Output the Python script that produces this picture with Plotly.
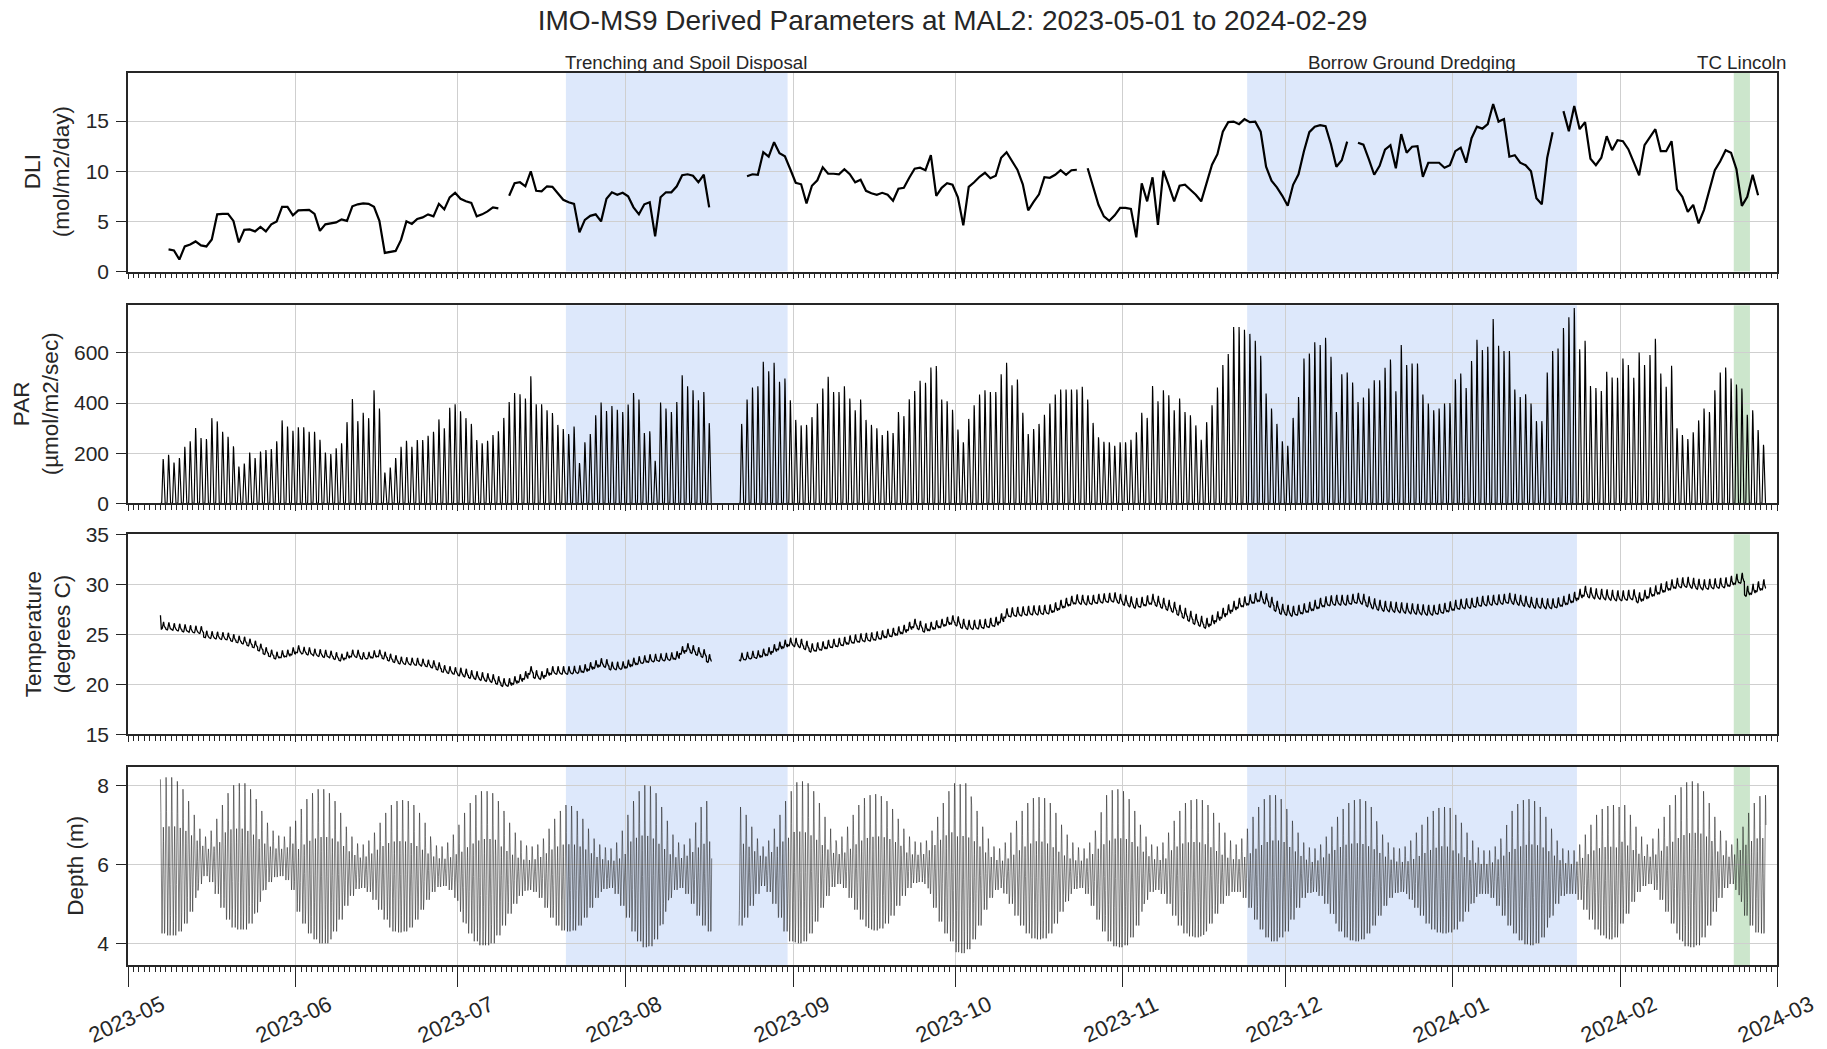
import pandas as pd
import plotly.graph_objects as go

# ---------------------------------------------------------------- time axis
AXIS_START = "2023-05-01"
AXIS_END = "2024-03-01"
MONTH_TICKS = [d.strftime("%Y-%m-%d") for d in pd.date_range(AXIS_START, AXIS_END, freq="MS")]
MONTH_LABELS = [d[:7] for d in MONTH_TICKS]

TITLE = "IMO-MS9 Derived Parameters at MAL2: 2023-05-01 to 2024-02-29"

# ---------------------------------------------------------------- activity periods
EVENT_NAMES = ["Trenching and Spoil Disposal", "Borrow Ground Dredging", "TC Lincoln"]
EVENT_STARTS = ["2023-07-21", "2023-11-24", "2024-02-22"]
EVENT_ENDS = ["2023-08-31", "2024-01-24", "2024-02-25"]

# ---------------------------------------------------------------- DLI, one value per day (None = no data)
DLI_START = "2023-05-08"
DLI = [
    2.2, 2.1, 1.2, 2.5, 2.7, 3.0, 2.6, 2.5, 3.2, 5.7,
    5.75, 5.75, 5.05, 2.9, 4.15, 4.2, 4.0, 4.45, 4.0, 4.7,
    5.0, 6.45, 6.45, 5.6, 6.1, 6.15, 6.15, 5.75, 4.05, 4.7,
    4.8, 4.9, 5.2, 5.05, 6.5, 6.7, 6.8, 6.75, 6.45, 5.05,
    1.85, 1.95, 2.05, 3.15, 5.0, 4.75, 5.25, 5.4, 5.7, 5.5,
    6.75, 6.2, 7.4, 7.85, 7.25, 7.0, 6.85, 5.5, 5.7, 6.0,
    6.4, 6.3, None, 7.55, 8.8, 8.9, 8.5, 10.0, 8.05, 8.0,
    8.5, 8.45, 7.8, 7.15, 6.9, 6.75, 3.9, 5.15, 5.55, 5.7,
    5.0, 7.25, 7.9, 7.65, 7.85, 7.5, 6.4, 5.7, 6.7, 6.9,
    3.5, 7.4, 7.9, 7.9, 8.5, 9.6, 9.7, 9.55, 8.9, 9.65,
    6.4, None, None, None, None, None, None, 9.5, 9.7, 9.65,
    11.9, 11.45, 12.9, 11.8, 11.5, 10.2, 8.85, 8.7, 6.8, 8.55,
    9.1, 10.4, 9.75, 9.75, 9.7, 10.2, 9.7, 8.9, 9.15, 8.05,
    7.8, 7.65, 7.85, 7.65, 7.05, 8.25, 8.35, 9.35, 10.25, 10.35,
    10.1, 11.6, 7.55, 8.35, 8.8, 8.65, 7.4, 4.6, 8.45, 8.9,
    9.45, 9.85, 9.3, 9.55, 11.35, 11.9, 10.95, 10.15, 8.7, 6.1,
    6.95, 7.7, 9.4, 9.35, 9.65, 10.1, 9.65, 10.1, 10.15, None,
    10.3, 8.45, 6.65, 5.5, 5.05, 5.6, 6.35, 6.35, 6.25, 3.4,
    8.8, 7.0, 9.4, 4.65, 10.05, 8.6, 7.0, 8.55, 8.65, 8.15,
    7.65, 7.0, 8.9, 10.65, 11.7, 13.95, 14.9, 14.95, 14.7, 15.2,
    14.9, 14.95, 13.95, 10.45, 9.05, 8.4, 7.55, 6.55, 8.65, 9.7,
    12.0, 13.9, 14.45, 14.6, 14.5, 12.7, 10.45, 11.1, 12.95, None,
    12.85, 12.65, 11.2, 9.65, 10.55, 12.15, 12.6, 10.3, 13.7, 11.85,
    12.45, 12.5, 9.45, 10.85, 10.85, 10.85, 10.35, 10.6, 12.0, 12.35,
    10.85, 13.3, 14.45, 14.25, 14.7, 16.7, 14.95, 15.2, 11.45, 11.6,
    10.85, 10.6, 10.0, 7.3, 6.7, 11.35, 13.9, None, 16.0, 14.0,
    16.5, 14.2, 14.9, 11.25, 10.6, 11.35, 13.5, 12.1, 13.1, 13.0,
    12.2, 10.9, 9.6, 12.6, 13.35, 14.2, 12.0, 12.0, 13.0, 8.2,
    7.45, 5.95, 6.65, 4.8, 6.15, 8.2, 10.1, 11.0, 12.1, 11.85,
    10.2, 6.55, 7.45, 9.65, 7.6,
]

# ---------------------------------------------------------------- PAR, midday peak of each day
PAR_START = "2023-05-07"
PAR_PEAK = [
    177, 194, 163, 181, 226, 248, 301, 261, 257, 340,
    327, 286, 266, 228, 147, 159, 203, 181, 207, 213,
    217, 248, 331, 307, 290, 304, 304, 286, 286, 254,
    203, 197, 220, 240, 324, 416, 328, 361, 340, 451,
    378, 123, 143, 181, 226, 250, 226, 253, 253, 270,
    286, 335, 300, 381, 395, 367, 340, 317, 253, 240,
    250, 273, 288, 341, 404, 440, 435, 418, 507, 395,
    395, 371, 360, 313, 297, 277, 307, 161, 244, 277,
    351, 402, 368, 388, 373, 364, 394, 440, 414, 281,
    288, 170, 402, 378, 364, 404, 511, 467, 451, 411,
    444, 320, None, None, None, None, None,
    317, 414, 462, 467, 565, 527, 561, 485, 498, 411,
    333, 311, 313, 344, 398, 458, 505, 444, 444, 467,
    418, 371, 414, 333, 313, 300, 273, 290, 281, 364,
    348, 415, 448, 489, 481, 542, 548, 414, 407,
    373, 295, 244, 337, 391, 434, 451, 444, 444, 515,
    561, 471, 494, 361, 277, 297, 317, 353, 398, 434,
    454, 454, 454, 454, 465, 414, 321, 264, 246, 244,
    230, 244, 244, 254, 284, 361, 341, 468, 407, 451,
    431, 371, 418, 364, 351, 311, 254, 324, 391, 462,
    552, 596, 703, 703, 692, 676, 649, 589, 438, 378,
    317, 248, 230, 341, 424, 578, 598, 643, 632, 661,
    585, 364, 515, 522, 482, 404, 422, 458, 491, 491,
    541, 574, 447, 632, 552, 558, 558, 434, 398, 371,
    378, 398, 400, 495, 518, 460, 568, 653, 612, 625,
    735, 629, 608, 608, 454, 424, 435, 398, 328, 328,
    522, 608, 618, 699, 742, 779, 615, 649, 468, 460,
    448, 525, 502, 501, 578, 552, 501, 602, 552, 592,
    657, 518, 465, 549, 300, 273, 257, 284, 331, 378,
    364, 451, 522, 542, 498, 474, 458, 353, 371, 293,
    234,
]
# share of the midday peak reached at each hour of the day
PAR_HOURLY_FRACTION = [0, 0, 0, 0, 0, 0, 0.05, 0.25, 0.5, 0.72, 0.88, 0.97,
                       1.0, 0.96, 0.85, 0.68, 0.45, 0.2, 0.03, 0, 0, 0, 0, 0]

# ---------------------------------------------------------------- water temperature, daily mean
TEMP_START = "2023-05-07"
TEMP_FIRST_READING = 26.9
TEMP_DAILY_MEAN = [
    25.8, 25.7, 25.65, 25.6, 25.5, 25.45, 25.4, 25.35, 24.9, 24.85,
    24.8, 24.75, 24.7, 24.55, 24.4, 24.3, 24.1, 23.9, 23.6, 23.25,
    23.0, 22.8, 22.9, 23.0, 23.2, 23.4, 23.3, 23.2, 23.1, 23.05,
    22.95, 22.9, 22.75, 22.6, 22.8, 23.0, 22.95, 22.75, 22.8, 22.9,
    23.0, 22.8, 22.6, 22.45, 22.3, 22.25, 22.2, 22.15, 22.1, 22.0,
    21.9, 21.7, 21.45, 21.35, 21.25, 21.15, 21.05, 20.9, 20.8, 20.7,
    20.6, 20.5, 20.3, 20.1, 20.1, 20.3, 20.5, 20.8, 21.3, 20.9,
    20.8, 21.1, 21.3, 21.3, 21.3, 21.3, 21.35, 21.4, 21.5, 21.7,
    21.9, 22.1, 22.0, 21.75, 21.75, 21.8, 21.95, 22.15, 22.3, 22.4,
    22.5, 22.55, 22.6, 22.65, 22.7, 22.8, 23.3, 23.6, 23.4, 23.2,
    23.0, 22.5, None, None, None, None, None,
    22.65, 22.75, 22.85, 22.9, 23.05, 23.2, 23.5, 23.75, 23.95, 24.15,
    24.1, 24.0, 23.8, 23.55, 23.65, 23.75, 23.9, 24.0, 24.1, 24.2,
    24.35, 24.45, 24.55, 24.6, 24.65, 24.75, 24.85, 25.0, 25.1, 25.25,
    25.4, 25.7, 26.0, 25.8, 25.55, 25.7, 25.85, 26.0, 26.2, 26.35,
    26.2, 25.95, 25.85, 25.85, 25.9, 25.95, 26.05, 26.15, 26.5, 27.0,
    27.1, 27.15, 27.2, 27.25, 27.3, 27.3, 27.35, 27.4, 27.6, 27.85,
    28.05, 28.25, 28.4, 28.35, 28.3, 28.35, 28.45, 28.5, 28.55, 28.6,
    28.45, 28.3, 28.15, 28.0, 28.1, 28.25, 28.4, 28.2, 28.0, 27.8,
    27.6, 27.3, 27.0, 26.7, 26.4, 26.2, 26.0, 26.3, 26.65, 27.0,
    27.35, 27.7, 28.0, 28.15, 28.35, 28.5, 28.7, 28.45, 28.1, 27.7,
    27.4, 27.3, 27.2, 27.3, 27.45, 27.6, 27.8, 28.0, 28.15, 28.25,
    28.3, 28.3, 28.3, 28.4, 28.5, 28.4, 28.15, 27.95, 27.8, 27.7,
    27.65, 27.6, 27.55, 27.5, 27.45, 27.4, 27.35, 27.3, 27.3, 27.4,
    27.5, 27.65, 27.8, 27.9, 27.95, 28.0, 28.1, 28.2, 28.25, 28.3,
    28.35, 28.4, 28.5, 28.4, 28.3, 28.2, 28.1, 28.0, 28.0, 27.95,
    27.95, 28.05, 28.2, 28.4, 28.6, 28.9, 29.2, 29.05, 28.95, 28.9,
    28.85, 28.8, 28.75, 28.75, 28.8, 28.85, 28.55, 28.8, 29.05, 29.25,
    29.45, 29.65, 29.85, 30.0, 30.05, 30.1, 30.0, 29.9, 29.85, 29.9,
    29.95, 30.0, 30.05, 30.2, 30.4, 30.5, 29.2, 29.4, 29.65, 29.85,
]
# within-day temperature pattern (multiplied by the month's half swing, degrees C)
TEMP_HOURLY_PATTERN = [-0.4, -0.45, -0.5, -0.55, -0.6, -0.6, -0.6, -0.55, -0.45, -0.3, -0.05, 0.3,
                       0.7, 1.0, 1.0, 0.65, 0.25, -0.05, -0.2, -0.25, -0.3, -0.3, -0.35, -0.35]
TEMP_MONTH = [5, 6, 7, 8, 9, 10, 11, 12, 1, 2]
TEMP_HALF_SWING = [0.45, 0.45, 0.5, 0.5, 0.55, 0.6, 0.65, 0.65, 0.65, 0.65]

# ---------------------------------------------------------------- depth, daily tidal range
DEPTH_START = "2023-05-07"
DEPTH_MONTH = [5, 6, 7, 8, 9, 10, 11, 12, 1, 2]
DEPTH_MONTHLY_MEAN = [6.2, 5.95, 5.9, 5.95, 6.05, 5.9, 5.9, 5.85, 5.8, 6.0]
DEPTH_DAILY_RANGE = [
    3.9, 4.0, 4.0, 3.8, 3.4, 2.8, 2.1, 1.4, 1.0, 1.3,
    1.9, 2.6, 3.2, 3.6, 3.7, 3.7, 3.4, 2.9, 2.3, 1.7,
    1.3, 1.05, 1.0, 1.2, 1.7, 2.3, 2.9, 3.4, 3.7, 3.9,
    3.9, 3.7, 3.3, 2.7, 2.0, 1.5, 1.15, 1.1, 1.3, 1.7,
    2.2, 2.7, 3.1, 3.3, 3.35, 3.3, 3.1, 2.7, 2.2, 1.7,
    1.3, 1.05, 1.0, 1.2, 1.6, 2.2, 2.8, 3.3, 3.7, 3.9,
    3.9, 3.8, 3.4, 2.9, 2.3, 1.8, 1.4, 1.15, 1.1, 1.2,
    1.5, 2.0, 2.5, 2.9, 3.15, 3.2, 3.15, 2.9, 2.5, 2.0,
    1.5, 1.2, 1.05, 1.0, 1.3, 1.9, 2.6, 3.3, 3.8, 4.1,
    4.05, 3.7, 3.0, 2.3, 1.6, 1.2, 1.1, 1.4, 1.9, 2.5,
    3.0, 3.3, None, None, None, None, None,
    3.0, 2.6, 2.0, 1.4, 1.0, 1.3, 1.9, 2.6, 3.3, 3.8,
    4.05, 4.1, 4.0, 3.6, 3.0, 2.3, 1.7, 1.25, 1.1, 1.3,
    1.8, 2.4, 2.9, 3.25, 3.4, 3.45, 3.35, 3.1, 2.7, 2.2,
    1.7, 1.3, 1.05, 1.0, 1.1, 1.6, 2.3, 3.0, 3.6, 4.0,
    4.25, 4.3, 4.1, 3.6, 2.9, 2.1, 1.5, 1.1, 1.0, 1.3,
    1.8, 2.4, 2.9, 3.3, 3.55, 3.6, 3.55, 3.3, 2.8, 2.2,
    1.7, 1.3, 1.05, 1.0, 1.3, 1.9, 2.6, 3.2, 3.7, 3.95,
    4.0, 3.9, 3.5, 2.9, 2.2, 1.6, 1.2, 1.1, 1.3, 1.8,
    2.4, 2.9, 3.3, 3.45, 3.5, 3.45, 3.2, 2.8, 2.3, 1.8,
    1.4, 1.2, 1.2, 1.5, 2.0, 2.6, 3.1, 3.5, 3.7, 3.7,
    3.5, 3.1, 2.5, 1.9, 1.4, 1.15, 1.1, 1.3, 1.7, 2.2,
    2.7, 3.1, 3.4, 3.55, 3.6, 3.5, 3.2, 2.8, 2.3, 1.8,
    1.4, 1.15, 1.1, 1.2, 1.5, 1.9, 2.3, 2.7, 3.0, 3.15,
    3.2, 3.15, 2.9, 2.5, 2.0, 1.6, 1.25, 1.1, 1.1, 1.3,
    1.7, 2.2, 2.7, 3.1, 3.45, 3.65, 3.7, 3.6, 3.3, 2.8,
    2.2, 1.6, 1.2, 1.1, 1.1, 1.4, 1.9, 2.4, 2.9, 3.2,
    3.35, 3.4, 3.3, 3.0, 2.5, 1.9, 1.4, 1.1, 1.0, 1.3,
    1.8, 2.4, 3.0, 3.5, 3.9, 4.15, 4.2, 4.1, 3.7, 3.1,
    2.4, 1.7, 1.2, 1.0, 1.3, 1.9, 2.6, 3.1, 3.45, 3.5,
]
# mixed semidiurnal pattern over one lunar day (25 h), scaled by half the daily range
TIDE_PATTERN = [1.0, 0.885, 0.568, 0.12, -0.354, -0.749, -0.979, -1.0, -0.822, -0.501, -0.129, 0.192,
                0.379, 0.379, 0.192, -0.129, -0.501, -0.822, -1.0, -0.979, -0.749, -0.354, 0.12, 0.568, 0.885]

# ---------------------------------------------------------------- styling
FONT = "Liberation Sans, Arial, Helvetica, sans-serif"
EDGE = "#262626"
GRID = "#cfcfcf"
EVENT_FILLS = ["rgba(100,149,237,0.22)", "rgba(100,149,237,0.22)", "rgba(0,128,0,0.2)"]
EVENT_LABEL_XSHIFT = [9, 0, 0]
TICK_FONT = 21
XTICK_FONT = 22
NOTE_FONT = 18.7
LABEL_FONT = 22.5


def daily_series(start, values):
    t0 = pd.Timestamp(start)
    xs = [t0 + pd.Timedelta(days=i, hours=12) for i in range(len(values))]
    return xs, values


def hourly_series(start, values, value_at):
    t0 = pd.Timestamp(start)
    xs, ys = [], []
    for i, v in enumerate(values):
        day = t0 + pd.Timedelta(days=i)
        if v is None:
            xs.append(day)
            ys.append(None)
            continue
        for h in range(24):
            t = day + pd.Timedelta(hours=h)
            xs.append(t)
            ys.append(value_at(v, t, h, i * 24 + h))
    return xs, ys


swing_by_month = dict(zip(TEMP_MONTH, TEMP_HALF_SWING))
depth_mean_by_month = dict(zip(DEPTH_MONTH, DEPTH_MONTHLY_MEAN))

dli_x, dli_y = daily_series(DLI_START, DLI)
par_x, par_y = hourly_series(PAR_START, PAR_PEAK, lambda v, t, h, k: v * PAR_HOURLY_FRACTION[h])
tmp_x, tmp_y = hourly_series(TEMP_START, TEMP_DAILY_MEAN,
                             lambda v, t, h, k: v + swing_by_month[t.month] * TEMP_HOURLY_PATTERN[h])
tmp_y[0] = TEMP_FIRST_READING
dep_x, dep_y = hourly_series(DEPTH_START, DEPTH_DAILY_RANGE,
                             lambda v, t, h, k: depth_mean_by_month[t.month] + 0.5 * v * TIDE_PATTERN[k % 25])

# ---------------------------------------------------------------- figure
W, H = 1827, 1049
M_L, M_R, M_T, M_B = 128, 50, 73, 84
plot_h = H - M_T - M_B


def frac(px_y):
    return (H - M_B - px_y) / plot_h


def sfx(i):
    return "" if i == 1 else str(i)


DOMAINS = [
    [frac(271.5), 1.0],
    [frac(503.4), frac(305.3)],
    [frac(734.3), frac(534.3)],
    [0.0, frac(766.7)],
]
Y_RANGES = [[0, 19.8], [0, 790], [15, 35], [3.45, 8.47]]
Y_DTICKS = [5, 200, 5, 2]
Y_LABELS = ["DLI<br>(mol/m2/day)", "PAR<br>(µmol/m2/sec)", "Temperature<br>(degrees C)", "Depth (m)"]
Y_LABEL_X = [47, 36, 48, 76]

fig = go.Figure()
traces = [
    (dli_x, dli_y, "#000000", 2.2),
    (par_x, par_y, "#000000", 1.15),
    (tmp_x, tmp_y, "#000000", 1.3),
    (dep_x, dep_y, "rgba(30,30,30,0.8)", 0.7),
]
for i, (x, y, col, w) in enumerate(traces, start=1):
    fig.add_trace(go.Scatter(x=x, y=y, mode="lines", line=dict(color=col, width=w),
                             connectgaps=False, showlegend=False, hoverinfo="skip",
                             xaxis="x" + sfx(i), yaxis="y" + sfx(i)))

layout = dict(
    width=W, height=H,
    margin=dict(l=M_L, r=M_R, t=M_T, b=M_B),
    paper_bgcolor="white", plot_bgcolor="rgba(0,0,0,0)",
    font=dict(family=FONT, color=EDGE, size=TICK_FONT),
    title=dict(text=TITLE, x=0.5, xref="paper", xanchor="center",
               y=1 - 20 / H, yref="container", yanchor="middle",
               font=dict(size=28, family=FONT, color=EDGE)),
    showlegend=False,
)
for i in range(1, 5):
    bottom = i == 4
    xa = dict(
        type="date", range=[AXIS_START, AXIS_END], anchor="y" + sfx(i), domain=[0, 1],
        tickmode="linear", tick0=AXIS_START, dtick="M1",
        showticklabels=False, ticks="outside", ticklen=20 if bottom else 6,
        tickwidth=1.3, tickcolor=EDGE,
        showgrid=True, gridcolor=GRID, gridwidth=1.4, zeroline=False,
        showline=True, linecolor=EDGE, linewidth=1.5, mirror=True,
        minor=dict(ticks="outside", ticklen=5, tickwidth=0.8, tickcolor=EDGE,
                   tickmode="linear", tick0=AXIS_START, dtick=86400000, showgrid=False),
    )
    if i > 1:
        xa["matches"] = "x"
    layout["xaxis" + sfx(i)] = xa
    layout["yaxis" + sfx(i)] = dict(
        anchor="x" + sfx(i), domain=DOMAINS[i - 1], range=Y_RANGES[i - 1],
        tickmode="linear", tick0=0, dtick=Y_DTICKS[i - 1],
        ticks="outside", ticklen=10, tickwidth=1.3, tickcolor=EDGE, ticklabelstandoff=3,
        tickfont=dict(size=TICK_FONT, color=EDGE, family=FONT),
        showgrid=True, gridcolor=GRID, gridwidth=1.4, zeroline=False,
        showline=True, linecolor=EDGE, linewidth=1.5, mirror=True,
    )
fig.update_layout(**layout)

# shaded activity periods on every panel, text above the top panel
shapes, notes = [], []
for name, s, e, fill, dx in zip(EVENT_NAMES, EVENT_STARTS, EVENT_ENDS, EVENT_FILLS, EVENT_LABEL_XSHIFT):
    for i in range(1, 5):
        shapes.append(dict(type="rect", xref="x" + sfx(i), yref="y" + sfx(i) + " domain",
                           x0=s, x1=e, y0=0, y1=1,
                           fillcolor=fill, line=dict(width=0), layer="below"))
    mid = pd.Timestamp(s) + (pd.Timestamp(e) - pd.Timestamp(s)) / 2
    notes.append(dict(text=name, x=mid, xref="x", y=1, yref="paper", xanchor="center",
                      yanchor="bottom", showarrow=False, yshift=-2, xshift=dx,
                      font=dict(size=NOTE_FONT, family=FONT, color=EDGE)))

# rotated month labels under the bottom panel
for tick, lab in zip(MONTH_TICKS, MONTH_LABELS):
    notes.append(dict(text=lab, x=tick, xref="x4", y=0, yref="paper", xanchor="center",
                      yanchor="middle", yshift=-54, xshift=-2, textangle=-25, showarrow=False,
                      font=dict(size=XTICK_FONT, family=FONT, color=EDGE)))

# panel axis titles
for i, (lab, xpx) in enumerate(zip(Y_LABELS, Y_LABEL_X)):
    d0, d1 = DOMAINS[i]
    notes.append(dict(text=lab, x=(xpx - M_L) / (W - M_L - M_R), xref="paper",
                      y=(d0 + d1) / 2, yref="paper", xanchor="center", yanchor="middle",
                      textangle=-90, showarrow=False,
                      font=dict(size=LABEL_FONT, family=FONT, color=EDGE)))

fig.update_layout(shapes=shapes, annotations=notes)
fig.write_html("out.html")
